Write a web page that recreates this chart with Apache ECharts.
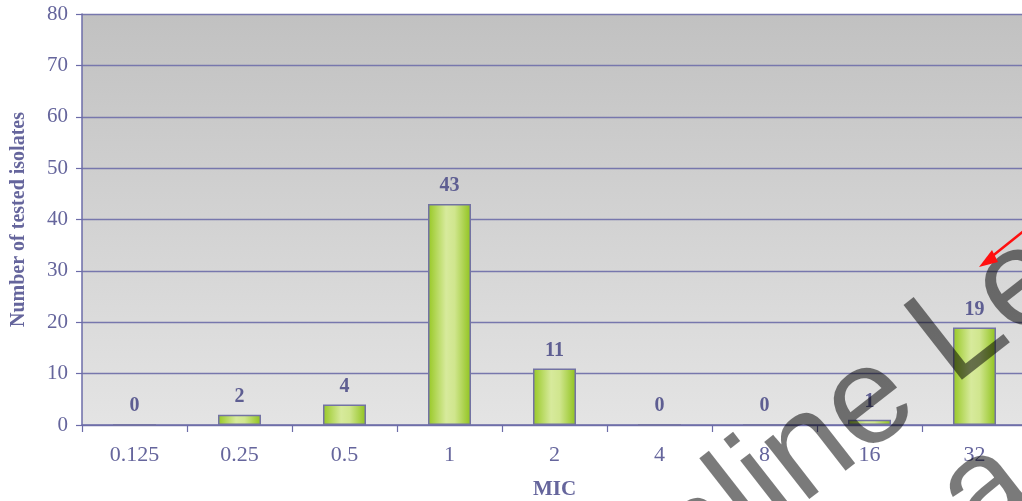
<!DOCTYPE html>
<html>
<head>
<meta charset="utf-8">
<script src="https://cdn.jsdelivr.net/npm/echarts@6/dist/echarts.min.js"></script>
<style>
  html, body { margin: 0; padding: 0; background: #fff; }
  #chart { width: 1022px; height: 501px; }
</style>
</head>
<body>
<div id="chart"></div>
<script>
// MIC distribution of tested isolates
const micLabels = ['0.125', '0.25', '0.5', '1', '2', '4', '8', '16', '32'];
const isolateCounts = [0, 2, 4, 43, 11, 0, 0, 1, 19];
const yTicks = { min: 0, max: 80, step: 10 };

const textColor = '#65659c';
const axisColor = '#6c6ca8';
const serif = '"Liberation Serif", "Times New Roman", serif';

const chart = echarts.init(document.getElementById('chart'), null, { renderer: 'canvas' });

// watermark: rotated text laid over the plot
const wmAngle = 38 * Math.PI / 180;
const wmFont = '138px "Liberation Sans", Arial, sans-serif';

chart.setOption({
  animation: false,
  backgroundColor: '#ffffff',
  grid: {
    left: 82,
    top: 14,
    width: 945,
    height: 411,
    outerBoundsMode: 'none',
    containLabel: false,
    show: true,
    borderWidth: 0,
    backgroundColor: {
      type: 'linear', x: 0, y: 0, x2: 0, y2: 1,
      colorStops: [
        { offset: 0, color: '#c1c1c1' },
        { offset: 1, color: '#e4e4e4' }
      ]
    }
  },
  xAxis: {
    type: 'category',
    data: micLabels,
    name: 'MIC',
    nameLocation: 'middle',
    nameGap: 54,
    nameTextStyle: { color: textColor, fontFamily: serif, fontWeight: 'bold', fontSize: 21 },
    axisLine: { lineStyle: { color: axisColor, width: 1.5 } },
    axisTick: { show: true, length: 7, lineStyle: { color: axisColor, width: 1.2 } },
    axisLabel: { color: textColor, fontFamily: serif, fontSize: 22, margin: 19 },
    splitLine: { show: false }
  },
  yAxis: {
    type: 'value',
    min: yTicks.min,
    max: yTicks.max,
    interval: yTicks.step,
    name: 'Number of tested isolates',
    nameLocation: 'middle',
    nameRotate: 90,
    nameGap: 53,
    nameTextStyle: { color: textColor, fontFamily: serif, fontWeight: 'bold', fontSize: 20 },
    axisLine: { show: true, lineStyle: { color: axisColor, width: 1.5 } },
    axisTick: { show: true, length: 6, lineStyle: { color: axisColor, width: 1.2 } },
    axisLabel: { color: textColor, fontFamily: serif, fontSize: 21, margin: 14 },
    splitLine: { show: true, lineStyle: { color: '#7777ad', width: 1.3 } }
  },
  series: [{
    type: 'bar',
    data: isolateCounts,
    barWidth: 43,
    itemStyle: {
      color: {
        type: 'linear', x: 0, y: 0, x2: 1, y2: 0,
        colorStops: [
          { offset: 0, color: '#97c823' },
          { offset: 0.42, color: '#d7ea9c' },
          { offset: 0.62, color: '#d0e68e' },
          { offset: 1, color: '#8fc21c' }
        ]
      },
      borderColor: '#7373a3',
      borderWidth: 1.5
    },
    label: {
      show: true,
      position: 'top',
      distance: 8,
      color: '#5e5e92',
      fontFamily: serif,
      fontWeight: 'bold',
      fontSize: 20
    }
  }],
  graphic: [
    {
      type: 'text',
      x: 585, y: 626,
      rotation: wmAngle,
      z: 100,
      silent: true,
      style: {
        text: 'Online Le',
        font: wmFont,
        fill: 'rgba(0,0,0,0.52)',
        align: 'left',
        verticalAlign: 'middle'
      }
    },
    {
      type: 'text',
      x: 986, y: 492,
      rotation: wmAngle,
      z: 100,
      silent: true,
      style: {
        text: 'a',
        font: wmFont,
        fill: 'rgba(0,0,0,0.52)',
        align: 'center',
        verticalAlign: 'middle'
      }
    },
    {
      type: 'line',
      z: 101,
      silent: true,
      shape: { x1: 1030, y1: 226, x2: 990, y2: 258 },
      style: { stroke: '#ff1010', lineWidth: 2.5 }
    },
    {
      type: 'polygon',
      z: 101,
      silent: true,
      shape: { points: [[979, 267], [992, 250], [998, 262]] },
      style: { fill: '#ff1010' }
    }
  ]
});
</script>
</body>
</html>
